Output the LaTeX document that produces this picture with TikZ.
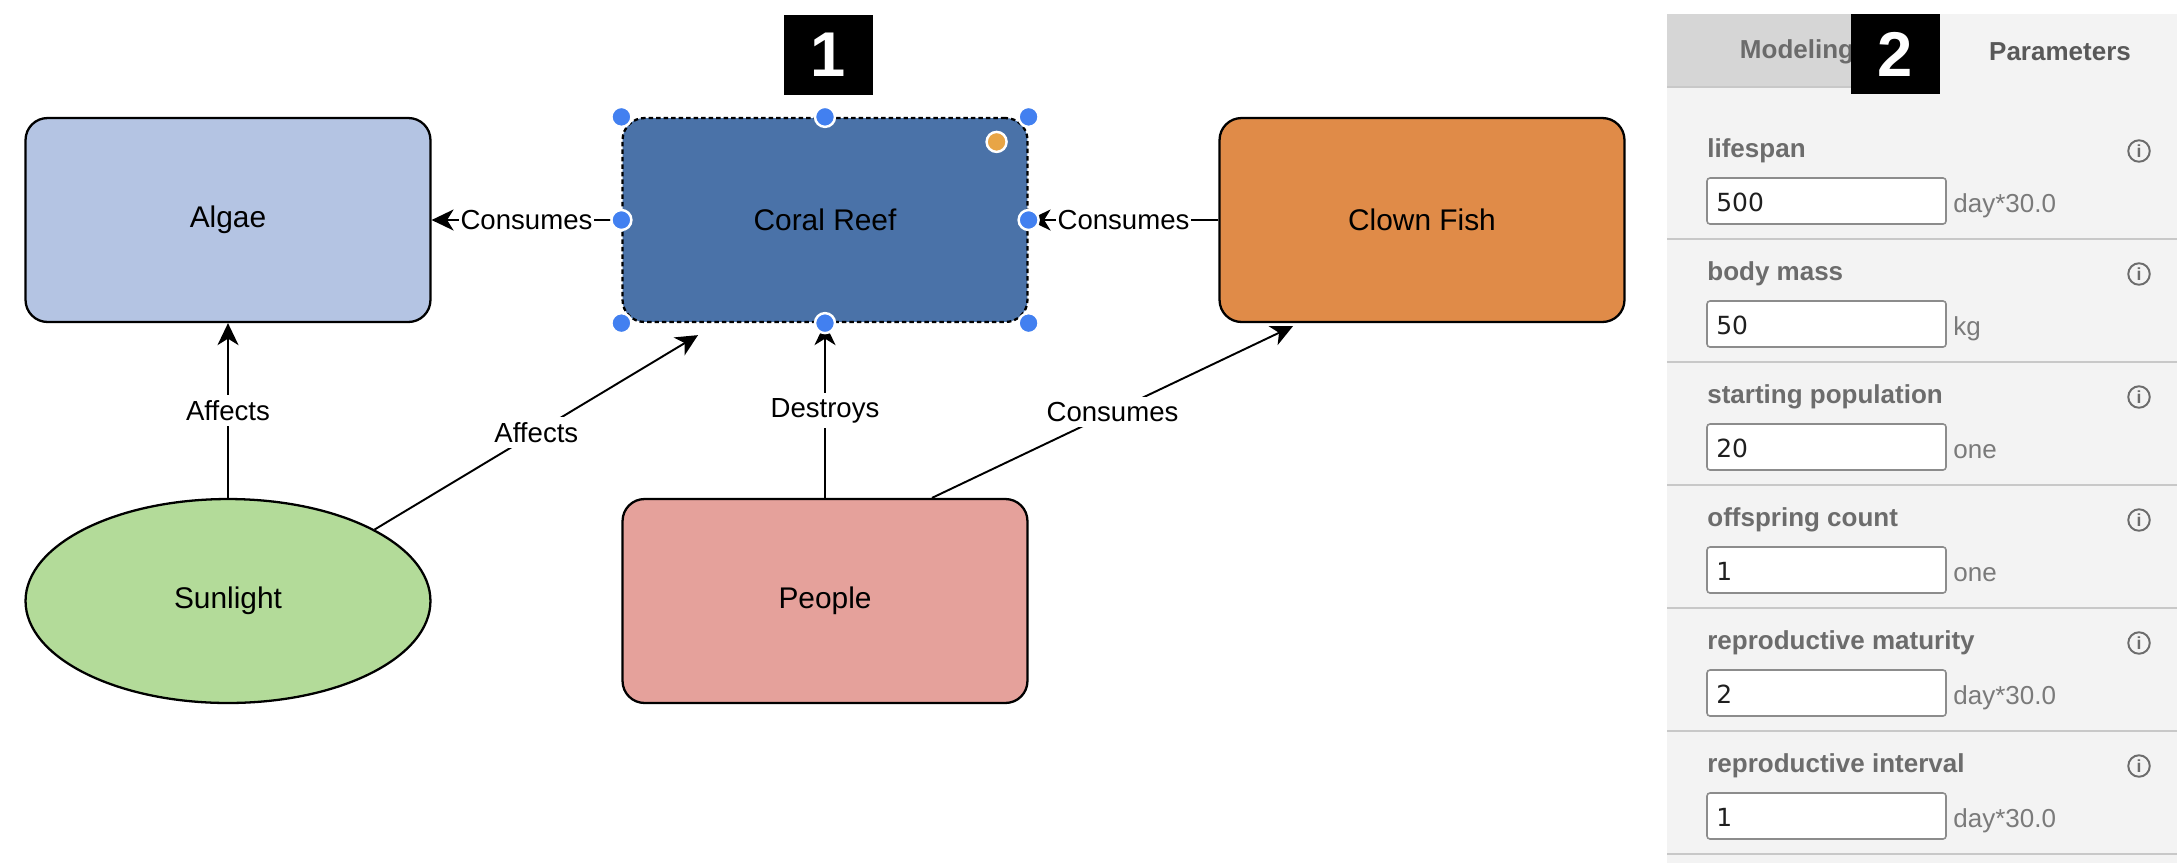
\documentclass[tikz,border=0pt]{standalone}
\usepackage{fontspec}
\setmainfont{Liberation Sans}
\newfontfamily\valfont{DejaVu Sans}
\usetikzlibrary{calc,arrows.meta,shapes.geometric}

\definecolor{algaecol}{RGB}{180,196,227}
\definecolor{reefcol}{RGB}{74,114,168}
\definecolor{fishcol}{RGB}{224,139,72}
\definecolor{suncol}{RGB}{179,219,153}
\definecolor{peoplecol}{RGB}{229,161,155}
\definecolor{handlecol}{RGB}{66,128,240}
\definecolor{dotcol}{RGB}{232,165,70}
\definecolor{panelcol}{RGB}{243,243,243}
\definecolor{tabcol}{RGB}{214,214,214}
\definecolor{labcol}{RGB}{108,108,108}
\definecolor{unitcol}{RGB}{122,122,122}
\definecolor{linecol}{RGB}{200,200,200}

\tikzset{
  box/.style={draw, line width=1.3pt, rounded corners=0.44cm,
    minimum width=8.1cm, minimum height=4.08cm,
    font=\fontsize{17}{20}\selectfont},
  selbox/.style={box, dash pattern=on 0.09cm off 0.06cm},
  oval/.style={box, ellipse, rounded corners=0pt},
  edge/.style={line width=1.1pt, -{Stealth[length=0.44cm,width=0.42cm,inset=0.13cm]}},
  lbl/.style={fill=white, inner xsep=1pt, inner ysep=3pt,
    font=\fontsize{15.7}{18}\selectfont},
  handle/.style={fill=handlecol, draw=white, line width=1.4pt},
  tag/.style={fill=black, text=white, minimum width=1.78cm, minimum height=1.62cm,
    font=\fontsize{36}{36}\selectfont\bfseries},
  tabtxt/.style={font=\fontsize{14.8}{17}\selectfont\bfseries},
  plab/.style={anchor=base west, inner sep=0, text=labcol,
    font=\fontsize{14.8}{17}\selectfont\bfseries},
  pval/.style={anchor=base west, inner sep=0, text=black!88,
    font=\valfont\fontsize{14.2}{17}\selectfont},
  punit/.style={anchor=base west, inner sep=0, text=unitcol,
    font=\fontsize{14.8}{17}\selectfont},
  info/.style={circle, draw=labcol, line width=1.1pt, inner sep=0,
    minimum size=0.43cm, text=labcol, font=\fontsize{10}{10}\selectfont\bfseries},
  inbox/.style={draw=black!45, fill=white, line width=0.9pt, rounded corners=0.06cm},
  sepline/.style={draw=linecol, line width=0.9pt}
}

\begin{document}
\begin{tikzpicture}[x=0.02cm, y=-0.02cm]
  \useasboundingbox (0,0) rectangle (2177,863);

  % pic1: model
  \node[box, fill=algaecol] (algae) at (228,220) {Algae};
  \node[selbox, fill=reefcol] (reef) at (825,220) {Coral Reef};
  \node[box, fill=fishcol] (fish) at (1422,220) {Clown Fish};
  \node[oval, fill=suncol] (sun) at (228,601) {Sunlight};
  \node[box, fill=peoplecol] (people) at (825,601) {People};

  % edges
  \draw[edge] (reef) -- node[lbl]{Consumes} (algae);
  \draw[edge] (fish) -- node[lbl]{Consumes} (reef);
  \draw[edge] (sun) -- node[lbl]{Affects} (algae);
  \draw[edge] (sun.26) -- node[lbl]{Affects} ($(reef.south)+(-127,12)$);
  \draw[edge] (people) -- node[lbl]{Destroys} (reef);
  \draw[edge] ($(people.north)+(107,0)$) -- node[lbl]{Consumes} ($(fish.south)+(-129,3)$);

  % selection handles
  \foreach \a in {north west,north,north east,west,east,south west,south,south east}
    \filldraw[handle] (reef.\a) circle (0.2cm);
  \filldraw[handle, fill=dotcol] ($(reef.north east)+(-32,25)$) circle (0.2cm);

  \node[tag] (tag1) at (828,55) {1};

  % pic2: panel
  \fill[panelcol] (1667,14) rectangle (2177,863);
  \fill[tabcol] (1667,14) rectangle (1900,87);
  \draw[sepline] (1667,87) -- (1900,87);
  \node[tabtxt, text=black!58] (tabmod) at (1797,52) {Modeling};
  \node[tabtxt, text=black!65] (tabpar) at (2060,52) {Parameters};
  \node[tag] (tag2) at (1895,54) {2};

  \foreach \i/\lab/\val/\unit in {0/lifespan/500/day*30.0, 1/body mass/50/kg,
      2/starting population/20/one, 3/offspring count/1/one,
      4/reproductive maturity/2/day*30.0, 5/reproductive interval/1/day*30.0} {
    \pgfmathsetmacro\sy{116+\i*123}
    \node[plab] (lab\i) at (1707,\sy+41) {\lab};
    \node[info] (info\i) at (2139,\sy+35) {i};
    \draw[inbox] (1707,\sy+62) rectangle (1946,\sy+108);
    \node[pval] (val\i) at (1716,\sy+95) {\val};
    \node[punit] (unit\i) at (1953,\sy+96) {\unit};
    \draw[sepline] (1667,\sy+123) -- (2177,\sy+123);
  }
\end{tikzpicture}
\end{document}
